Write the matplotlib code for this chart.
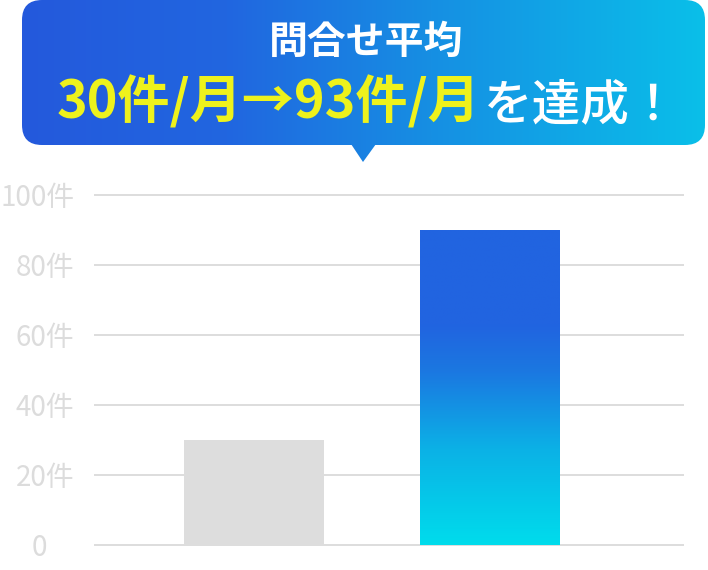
import numpy as np
import matplotlib
matplotlib.use("Agg")
import matplotlib.pyplot as plt
from matplotlib.colors import LinearSegmentedColormap
from matplotlib.patches import FancyBboxPatch, Polygon
from matplotlib.transforms import ScaledTranslation

plt.rcParams['font.family'] = ['Noto Sans CJK JP', 'DejaVu Sans']

# data
categories = ['導入前', '導入後']
values = [30, 90]
yticks = [0, 20, 40, 60, 80, 100]
ytick_labels = ['0', '20件', '40件', '60件', '80件', '100件']
title_line1 = '問合せ平均'
title_hl = '30件/月→93件/月'
title_rest = 'を達成！'

W, H = 708, 570
fig = plt.figure(figsize=(W / 100, H / 100), dpi=100)

# main chart, 3.5 px per unit
ax = fig.add_axes([94 / W, 1 - 548.2 / H, 590 / W, 357 / H])
ax.set_ylim(-1, 101)
ax.set_xlim(-0.678, 1.822)
for s in ax.spines.values():
    s.set_visible(False)
ax.patch.set_visible(False)
for t in yticks:
    ax.axhline(t, color='#dddddd', lw=1.4, zorder=0)
ax.set_xticks([])
ax.set_yticks(yticks)
ax.set_yticklabels(ytick_labels, fontsize=20, color='#dcdcdc')
ax.tick_params(axis='y', length=0, pad=14)
# "0" sits further left, as in the original
lab0 = ax.get_yticklabels()[0]
lab0.set_transform(lab0.get_transform() + ScaledTranslation(-27 / 100, 0, fig.dpi_scale_trans))

bars = ax.bar(range(len(values)), values, width=0.593, color=['#dddddd', 'none'], zorder=2)

# gradient fill on second bar
bar_cmap = LinearSegmentedColormap.from_list(
    'bar', [(0, '#00dcec'), (0.3, '#0bb2e6'), (0.55, '#1b78e1'), (0.7, '#2164e0'), (1, '#2164e0')])
b = bars[1]
x0, y0 = b.get_x(), b.get_y()
grad = np.linspace(1, 0, 256).reshape(-1, 1)
im = ax.imshow(grad, cmap=bar_cmap, aspect='auto', zorder=2,
               extent=(x0, x0 + b.get_width(), y0, y0 + b.get_height()))
im.set_clip_path(b)

# callout box, pixel coordinates
ov = fig.add_axes([0, 0, 1, 1])
ov.set_xlim(0, W)
ov.set_ylim(H, 0)
ov.axis('off')
box_cmap = LinearSegmentedColormap.from_list('box', [(0, '#2459dc'), (0.3, '#2166e0'), (0.6, '#168fe3'), (1, '#0abfe9')])
box = FancyBboxPatch((22, 0), 683, 145, boxstyle='round,pad=0,rounding_size=20',
                     facecolor='none', edgecolor='none')
ov.add_patch(box)
tri = Polygon([(351, 144), (376, 144), (363, 162)], closed=True, facecolor='none', edgecolor='none')
ov.add_patch(tri)
hgrad = np.linspace(0, 1, 512).reshape(1, -1)
for clip in (box, tri):
    g = ov.imshow(hgrad, cmap=box_cmap, aspect='auto', extent=(22, 705, 170, -2))
    g.set_clip_path(clip)
ov.set_xlim(0, W)
ov.set_ylim(H, 0)

ov.text(366, 54, title_line1, color='white', fontsize=28, fontweight='bold', ha='center', va='baseline')
ov.text(480, 119, title_hl, color='#eef21c', fontsize=37.5, fontweight='bold', ha='right', va='baseline')
ov.text(484, 119, title_rest, color='white', fontsize=35, fontweight='medium', ha='left', va='baseline')

fig.savefig('out.png', dpi=100)
